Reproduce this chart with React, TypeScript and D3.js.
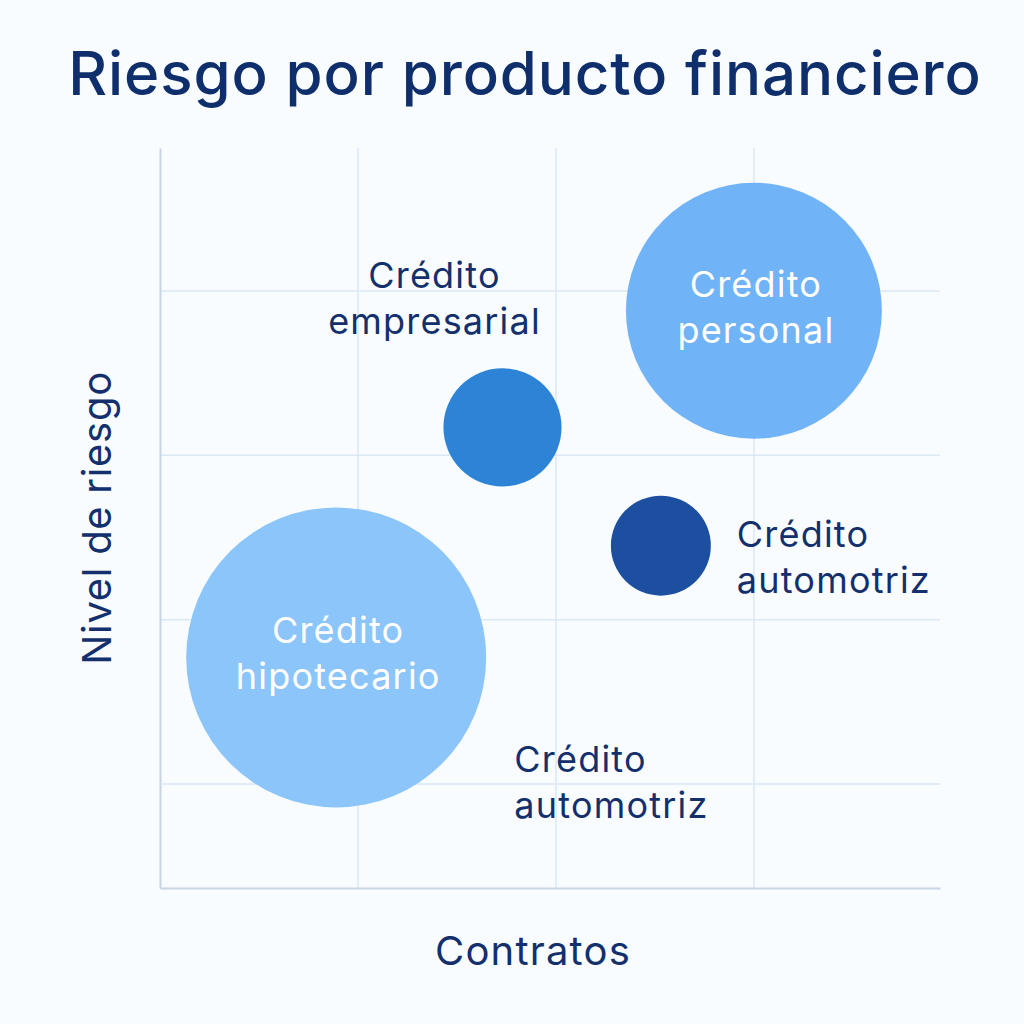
import React, { useEffect, useRef } from "react";
import * as d3 from "d3";

// productos financieros
const products = [
  "Crédito hipotecario",
  "Crédito empresarial",
  "Crédito personal",
  "Crédito automotriz",
];
// contratos (miles)
const contracts = [0.89, 1.73, 3.0, 2.53];
// nivel de riesgo
const risk = [1.77, 3.17, 3.88, 2.45];
// volumen (tamaño de burbuja)
const volume = [100, 15.5, 72.8, 11.1];
const colors = ["#8cc5f9", "#2d84d6", "#70b3f6", "#1c4f9f"];
// where each label goes: inside / above / right
const labelPos = ["inside", "above", "inside", "right"];

// extra label without bubble
const extraLabel = { text: "Crédito automotriz", contracts: 1.79, risk: 1.07 };

const xTicks = [1, 2, 3];
const yTicks = [1, 2, 3, 4];

export default function App() {
  const ref = useRef<SVGSVGElement>(null);

  useEffect(() => {
    const svg = d3.select(ref.current);
    svg.selectAll("*").remove();

    const width = 1024;
    const height = 1024;
    const margin = { top: 148, right: 84, bottom: 136, left: 160 };
    const font = "Inter, Roboto, 'Noto Sans', sans-serif";
    const navy = "#13306d";

    svg.attr("width", width).attr("height", height);

    svg
      .append("rect")
      .attr("width", width)
      .attr("height", height)
      .attr("fill", "#f8fcff");

    const x = d3
      .scaleLinear()
      .domain([0, 3.94])
      .range([margin.left, width - margin.right]);

    const y = d3
      .scaleLinear()
      .domain([0.367, 4.87])
      .range([height - margin.bottom, margin.top]);

    const r = d3.scaleSqrt().domain([0, 100]).range([0, 150]);

    // grid
    const grid = svg.append("g");
    grid
      .selectAll("line.v")
      .data(xTicks)
      .join("line")
      .attr("x1", (d) => x(d))
      .attr("x2", (d) => x(d))
      .attr("y1", y.range()[1])
      .attr("y2", y.range()[0])
      .attr("stroke", "#dce8f5")
      .attr("stroke-width", 1.5);
    grid
      .selectAll("line.h")
      .data(yTicks)
      .join("line")
      .attr("x1", x.range()[0])
      .attr("x2", x.range()[1])
      .attr("y1", (d) => y(d))
      .attr("y2", (d) => y(d))
      .attr("stroke", "#dce8f5")
      .attr("stroke-width", 1.5);

    // axes
    svg
      .append("g")
      .attr("transform", `translate(0,${y.range()[0]})`)
      .call(d3.axisBottom(x).tickValues([]).tickSizeOuter(0))
      .call((g) => g.select(".domain").attr("stroke", "#c7d5e6").attr("stroke-width", 2));
    svg
      .append("g")
      .attr("transform", `translate(${x.range()[0]},0)`)
      .call(d3.axisLeft(y).tickValues([]).tickSizeOuter(0))
      .call((g) => g.select(".domain").attr("stroke", "#c7d5e6").attr("stroke-width", 2));

    // bubbles
    const data = products.map((p, i) => ({
      name: p,
      x: contracts[i],
      y: risk[i],
      v: volume[i],
      color: colors[i],
      pos: labelPos[i],
    }));

    svg
      .append("g")
      .selectAll("circle")
      .data(data)
      .join("circle")
      .attr("cx", (d) => x(d.x))
      .attr("cy", (d) => y(d.y))
      .attr("r", (d) => r(d.v))
      .attr("fill", (d) => d.color);

    const lineH = 46;
    const labelFs = 36;

    const drawLabel = (
      text: string,
      lx: number,
      ly: number,
      anchor: string,
      fill: string
    ) => {
      const words = text.split(" ");
      const t = svg
        .append("text")
        .attr("x", lx)
        .attr("y", ly)
        .attr("text-anchor", anchor)
        .attr("fill", fill)
        .attr("font-family", font)
        .attr("font-size", labelFs)
        .attr("letter-spacing", 1.2);
      words.forEach((w, i) => {
        t.append("tspan")
          .attr("x", lx)
          .attr("dy", i === 0 ? 0 : lineH)
          .text(w);
      });
    };

    data.forEach((d) => {
      const cx = x(d.x);
      const cy = y(d.y);
      const rr = r(d.v);
      if (d.pos === "inside") {
        drawLabel(d.name, cx + 2, cy - 14, "middle", "#ffffff");
      } else if (d.pos === "above") {
        drawLabel(d.name, cx - 68, cy - 139, "middle", navy);
      } else {
        drawLabel(d.name, cx + rr + 26, cy + 1, "start", navy);
      }
    });

    drawLabel(extraLabel.text, x(extraLabel.contracts), y(extraLabel.risk), "start", navy);

    // title
    svg
      .append("text")
      .attr("x", 525)
      .attr("y", 95)
      .attr("text-anchor", "middle")
      .attr("fill", "#0f2f6c")
      .attr("font-family", font)
      .attr("font-size", 60)
      .attr("font-weight", 500)
      .attr("letter-spacing", 0.9)
      .text("Riesgo por producto financiero");

    // axis titles
    svg
      .append("text")
      .attr("x", 533)
      .attr("y", 965)
      .attr("text-anchor", "middle")
      .attr("fill", navy)
      .attr("font-family", font)
      .attr("font-size", 40)
      .attr("letter-spacing", 1.2)
      .text("Contratos");

    svg
      .append("text")
      .attr("transform", `translate(111,518) rotate(-90)`)
      .attr("text-anchor", "middle")
      .attr("fill", navy)
      .attr("font-family", font)
      .attr("font-size", 40)
      .attr("letter-spacing", 0.7)
      .text("Nivel de riesgo");
  }, []);

  return (
    <div style={{ position: "fixed", left: 0, top: 0 }}>
      <svg ref={ref} style={{ display: "block" }}></svg>
    </div>
  );
}
